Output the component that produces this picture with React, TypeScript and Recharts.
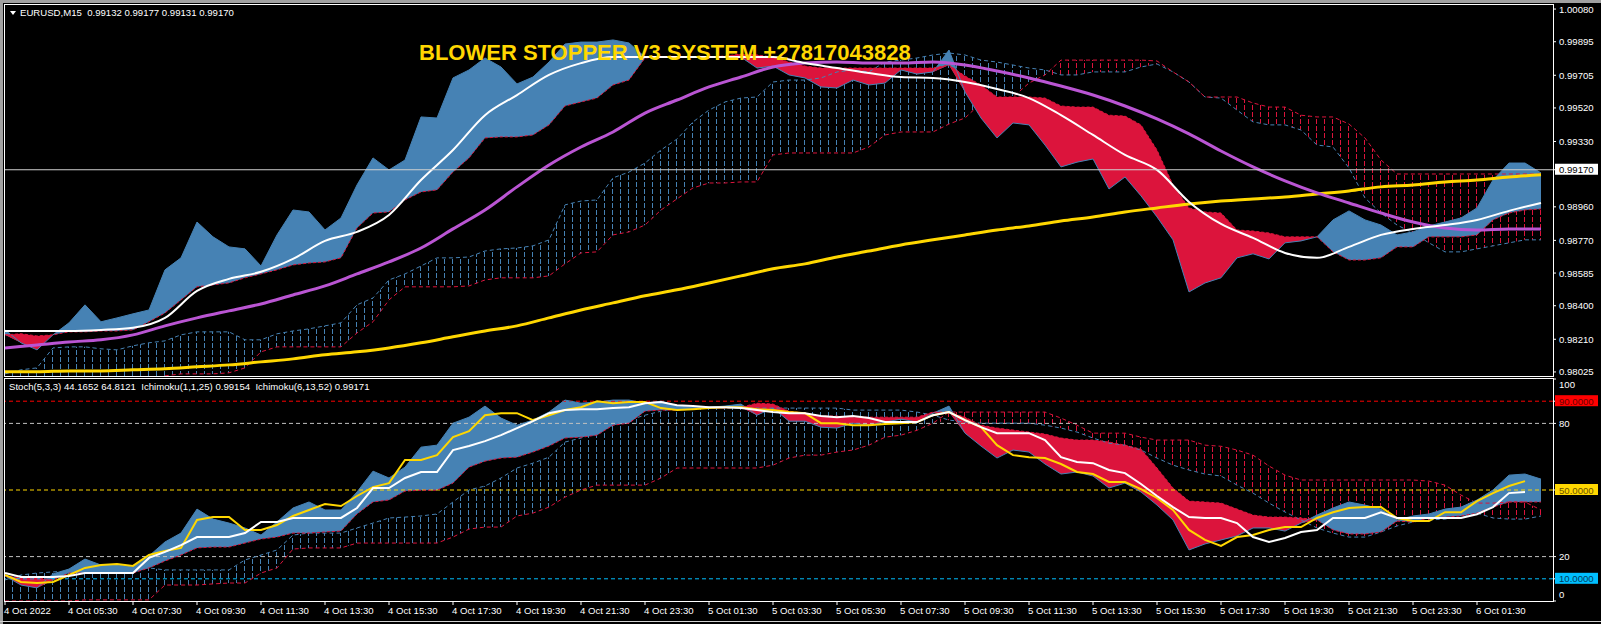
import { ComposedChart, Area, Line, XAxis, YAxis, ReferenceLine } from "recharts";

// M15 bars, bar 0 = 4 Oct 2022 03:30. Cloud series are read every 2 bars,
// the smooth moving averages every 4 bars.
const CLOUD_STEP = 2;
const MA_STEP = 4;

const TIME_TICKS = [0, 8, 16, 24, 32, 40, 48, 56, 64, 72, 80, 88, 96, 104, 112, 120, 128, 136, 144, 152, 160, 168, 176, 184];
const TIME_LABELS = [
  "4 Oct 2022", "4 Oct 05:30", "4 Oct 07:30", "4 Oct 09:30", "4 Oct 11:30", "4 Oct 13:30",
  "4 Oct 15:30", "4 Oct 17:30", "4 Oct 19:30", "4 Oct 21:30", "4 Oct 23:30", "5 Oct 01:30",
  "5 Oct 03:30", "5 Oct 05:30", "5 Oct 07:30", "5 Oct 09:30", "5 Oct 11:30", "5 Oct 13:30",
  "5 Oct 15:30", "5 Oct 17:30", "5 Oct 19:30", "5 Oct 21:30", "5 Oct 23:30", "6 Oct 01:30",
];

const PRICE_TICKS = [0.98025, 0.9821, 0.984, 0.98585, 0.9877, 0.9896, 0.9917, 0.9933, 0.9952, 0.99705, 0.99895, 1.0008];
const LAST_PRICE = 0.9917;
const STOCH_TICKS = [0, 10, 20, 50, 80, 90, 100];

// Ichimoku(1,1,25) on price: span A (price) and span B
const TOP_PRICE = [
  0.98263, 0.9819, 0.9815, 0.98235, 0.98303, 0.98405, 0.98309, 0.98331, 0.98354, 0.98376,
  0.98603, 0.98671, 0.98874, 0.9879, 0.98733, 0.98722, 0.98625, 0.98801, 0.98942, 0.98931,
  0.98829, 0.98897, 0.99084, 0.99237, 0.99169, 0.99225, 0.99469, 0.99463, 0.9969, 0.99735,
  0.99803, 0.99752, 0.99656, 0.99695, 0.9978, 0.99882, 0.99893, 0.99893, 0.99905, 0.99888,
  0.99808, 0.99808, 0.99808, 0.99808, 0.99808, 0.99808, 0.99808, 0.99746, 0.99757, 0.99707,
  0.9969, 0.99639, 0.99633, 0.99678, 0.9965, 0.99661, 0.99735, 0.99712, 0.99724, 0.99848,
  0.9961, 0.99463, 0.9935, 0.99435, 0.99424, 0.9931, 0.99186, 0.99213, 0.99231, 0.99061,
  0.99129, 0.99022, 0.98903, 0.98773, 0.98478, 0.98529, 0.98558, 0.98671, 0.98694, 0.98665,
  0.98756, 0.98767, 0.9879, 0.98886, 0.98937, 0.98886, 0.98857, 0.98801, 0.98818, 0.98852,
  0.98874, 0.98897, 0.98954, 0.99112, 0.99208, 0.99208, 0.99152,
];
const TOP_SPAN_B = [
  0.98235, 0.98241, 0.98229, 0.98235, 0.98252, 0.98252, 0.98257, 0.98257, 0.98263, 0.98309,
  0.98359, 0.98433, 0.98507, 0.98518, 0.98529, 0.98558, 0.9858, 0.98603, 0.98631, 0.98642,
  0.98648, 0.98671, 0.9884, 0.98925, 0.98931, 0.98999, 0.99044, 0.99056, 0.99157, 0.99237,
  0.9935, 0.99356, 0.99356, 0.99367, 0.99424, 0.99531, 0.99554, 0.99576, 0.9965, 0.99678,
  0.99803, 0.99808, 0.99808, 0.99808, 0.99808, 0.99814, 0.99825, 0.9982, 0.99808, 0.9978,
  0.99757, 0.99746, 0.99746, 0.99746, 0.99746, 0.99746, 0.99746, 0.99746, 0.99746, 0.99763,
  0.99701, 0.9965, 0.99582, 0.99582, 0.99582, 0.99576, 0.99531, 0.99525, 0.99525, 0.99479,
  0.99474, 0.99424, 0.99282, 0.99084, 0.98954, 0.98931, 0.98925, 0.98829, 0.98823, 0.98812,
  0.9879, 0.9879, 0.9879, 0.98705, 0.98659, 0.98659, 0.98671, 0.98733, 0.98733, 0.9879,
  0.9879, 0.9879, 0.98801, 0.98886, 0.98925, 0.98942, 0.98948,
];
// Ichimoku(6,13,52) on price: span A and span B
const TOP_SLOW_A = [
  0.98014, 0.98037, 0.98048, 0.98161, 0.98167, 0.98167, 0.98156, 0.9815, 0.98173, 0.9819,
  0.98201, 0.98235, 0.98252, 0.98252, 0.98252, 0.98207, 0.98207, 0.98241, 0.98257, 0.98269,
  0.98286, 0.98303, 0.98405, 0.98444, 0.98546, 0.9858, 0.98625, 0.98671, 0.98671, 0.98676,
  0.9871, 0.98722, 0.98727, 0.98739, 0.98773, 0.98971, 0.98993, 0.98999, 0.99124, 0.99157,
  0.99208, 0.99282, 0.99344, 0.99441, 0.99508, 0.99554, 0.99576, 0.99582, 0.99667, 0.99678,
  0.99678, 0.9969, 0.99724, 0.99735, 0.99724, 0.9978, 0.99791, 0.99803, 0.9982, 0.99831,
  0.9982, 0.99791, 0.9978, 0.99763, 0.99746, 0.99735, 0.99707, 0.99707, 0.99724, 0.99724,
  0.99724, 0.99752, 0.99769, 0.99724, 0.99667, 0.99582, 0.99576, 0.99508, 0.99441, 0.99424,
  0.99424, 0.99395, 0.9931, 0.99299, 0.9918, 0.9901, 0.98925, 0.98857, 0.98812, 0.98756,
  0.98705, 0.98705, 0.98722, 0.98739, 0.98756, 0.98773, 0.98773,
];
const TOP_SLOW_B = [
  0.97952, 0.97952, 0.97952, 0.97952, 0.97952, 0.97952, 0.97952, 0.97952, 0.97952, 0.9798,
  0.98003, 0.98014, 0.98014, 0.98014, 0.9802, 0.98048, 0.98139, 0.98167, 0.98167, 0.98167,
  0.98167, 0.98167, 0.98246, 0.98309, 0.98433, 0.98507, 0.98507, 0.98507, 0.98507, 0.98512,
  0.98546, 0.98558, 0.98558, 0.98558, 0.98569, 0.98637, 0.98699, 0.98705, 0.98801, 0.98818,
  0.98857, 0.98942, 0.99005, 0.99067, 0.99095, 0.99095, 0.99101, 0.99101, 0.99254, 0.99265,
  0.99265, 0.99265, 0.99265, 0.99265, 0.99299, 0.99367, 0.99384, 0.99384, 0.99384, 0.99429,
  0.99463, 0.99548, 0.99554, 0.99582, 0.99661, 0.99707, 0.99791, 0.99791, 0.99791, 0.99791,
  0.99791, 0.99791, 0.99786, 0.99724, 0.99667, 0.99582, 0.99582, 0.99582, 0.99548, 0.99525,
  0.99525, 0.99479, 0.99469, 0.99469, 0.99429, 0.9935, 0.99225, 0.99146, 0.99146, 0.99146,
  0.99146, 0.99146, 0.99146, 0.99146, 0.99146, 0.99146, 0.99146,
];
// moving averages on price
const TOP_WHITE = [
  0.98257, 0.98257, 0.98257, 0.98263, 0.98275, 0.98331, 0.98484, 0.98552, 0.98592, 0.98665,
  0.98767, 0.98818, 0.98914, 0.99112, 0.99282, 0.99479, 0.99593, 0.99707, 0.99774, 0.99808,
  0.99808, 0.99808, 0.99808, 0.99808, 0.99808, 0.99774, 0.99746, 0.99718, 0.99695, 0.9969,
  0.99667, 0.99627, 0.99576, 0.99479, 0.99367, 0.99254, 0.99169, 0.98988, 0.98863, 0.98784,
  0.98699, 0.98671, 0.98733, 0.98801, 0.98835, 0.98857, 0.98886, 0.98937, 0.98982,
];
const TOP_MAGENTA = [
  0.98161, 0.98178, 0.98195, 0.98207, 0.98235, 0.98286, 0.98331, 0.98371, 0.9841, 0.98461,
  0.98512, 0.9858, 0.98648, 0.98727, 0.98835, 0.98942, 0.99073, 0.99197, 0.99299, 0.99384,
  0.99491, 0.99565, 0.99639, 0.99695, 0.99752, 0.99774, 0.9978, 0.99774, 0.99774, 0.9978,
  0.99763, 0.99729, 0.9969, 0.99644, 0.99593, 0.99531, 0.99458, 0.99373, 0.99276, 0.99186,
  0.99107, 0.99039, 0.98982, 0.98925, 0.98874, 0.9884, 0.98829, 0.98835, 0.98835,
];
const TOP_YELLOW = [
  0.98026, 0.98026, 0.98031, 0.98031, 0.98037, 0.98043, 0.98054, 0.98065, 0.98082, 0.98099,
  0.98122, 0.98139, 0.98161, 0.9819, 0.98224, 0.98257, 0.98286, 0.98331, 0.98376, 0.98416,
  0.98456, 0.9849, 0.98529, 0.98569, 0.98609, 0.98637, 0.98676, 0.9871, 0.98744, 0.98773,
  0.98801, 0.98829, 0.98852, 0.9888, 0.98903, 0.98931, 0.98954, 0.98976, 0.98993, 0.99005,
  0.99016, 0.99033, 0.9905, 0.99073, 0.99084, 0.99101, 0.99112, 0.99129, 0.99141,
];

// lower window: stochastic with the two Ichimoku clouds applied to it
const BOT_FAST_A = [
  11.3, 7.2, 5.9, 12.2, 14.4, 18.9, 16.2, 16.2, 15.3, 20.3,
  26.6, 30.6, 41.4, 36.9, 35.1, 32.9, 29.7, 35.6, 41.9, 44.6,
  41.0, 41.0, 49.1, 58.5, 55.4, 60.3, 69.3, 70.2, 80.1, 82.8,
  87.8, 82.4, 79.2, 81.5, 85.1, 90.5, 89.1, 89.6, 90.5, 90.5,
  89.1, 90.0, 87.8, 87.3, 87.3, 87.8, 88.7, 83.7, 86.9, 81.0,
  81.0, 78.3, 77.9, 80.1, 79.2, 80.6, 81.9, 80.6, 84.6, 87.8,
  75.6, 69.8, 64.4, 68.0, 67.1, 61.7, 57.2, 58.1, 56.3, 50.9,
  53.1, 49.1, 43.2, 36.5, 23.0, 25.7, 27.5, 29.3, 32.9, 32.9,
  31.5, 35.1, 38.7, 41.9, 44.6, 43.2, 41.4, 36.5, 38.3, 39.2,
  41.4, 42.3, 45.5, 50.0, 56.7, 57.2, 54.9,
];
const BOT_FAST_B = [
  11.3, 10.4, 10.4, 9.5, 12.6, 12.6, 12.6, 12.6, 12.6, 14.9,
  18.0, 20.7, 23.9, 24.3, 24.3, 26.1, 27.9, 28.8, 30.6, 30.6,
  31.1, 31.5, 39.2, 44.6, 45.5, 49.5, 49.9, 49.9, 53.1, 60.3,
  63.0, 64.4, 64.8, 67.1, 69.8, 73.4, 73.8, 74.7, 79.2, 80.1,
  85.5, 86.0, 86.0, 86.4, 86.9, 86.9, 87.3, 89.1, 88.7, 85.5,
  84.6, 83.3, 83.3, 82.8, 82.8, 82.8, 82.8, 82.8, 85.1, 85.1,
  82.8, 79.2, 77.9, 77.0, 76.1, 75.2, 73.4, 72.5, 72.5, 71.6,
  70.2, 68.4, 59.9, 50.9, 45.0, 44.6, 44.1, 41.4, 38.7, 37.8,
  37.8, 37.4, 36.5, 32.0, 30.2, 30.2, 31.1, 36.0, 35.6, 37.4,
  37.8, 38.3, 39.6, 42.3, 44.6, 44.6, 44.6,
];
const BOT_SLOW_A = [
  9.5, 11.7, 12.6, 13.1, 13.5, 14.0, 14.0, 14.0, 14.4, 14.9,
  14.0, 14.0, 14.0, 14.0, 14.0, 18.5, 20.7, 23.0, 29.7, 30.6,
  30.6, 30.6, 32.9, 35.1, 37.4, 37.8, 38.3, 39.2, 44.6, 50.0,
  51.8, 55.4, 59.9, 62.1, 64.8, 71.6, 73.4, 75.6, 79.2, 81.5,
  83.7, 85.5, 86.9, 86.9, 86.9, 86.9, 86.9, 86.9, 86.9, 86.9,
  86.9, 86.9, 86.9, 86.0, 86.0, 86.0, 86.0, 85.1, 83.7, 81.5,
  80.6, 80.1, 80.1, 80.1, 80.1, 79.2, 77.9, 76.1, 73.4, 71.1,
  70.2, 68.0, 64.4, 61.2, 59.0, 57.2, 56.3, 52.2, 48.6, 44.1,
  40.1, 36.5, 32.9, 30.6, 28.8, 28.8, 31.1, 33.8, 35.6, 36.5,
  36.9, 37.8, 39.6, 37.4, 36.9, 36.9, 38.3,
];
const BOT_SLOW_B = [
  0, 0, 0, 0, 0, 0.5, 0.5, 0.5, 0.5, 0.5,
  7.2, 7.2, 7.2, 7.7, 8.1, 8.1, 12.6, 14.9, 23.4, 23.9,
  23.9, 23.9, 26.1, 26.1, 26.1, 26.1, 26.1, 26.1, 28.8, 32.4,
  33.3, 33.3, 38.3, 39.6, 42.3, 46.8, 50.0, 52.2, 52.2, 52.2,
  52.2, 55.4, 59.9, 59.9, 59.9, 59.9, 59.9, 59.9, 61.2, 64.4,
  65.7, 65.7, 67.1, 68.0, 70.2, 73.8, 74.7, 76.9, 80.1, 85.1,
  85.1, 85.1, 85.1, 85.1, 85.1, 85.1, 82.4, 79.2, 75.6, 75.6,
  75.6, 73.8, 72.5, 72.5, 72.5, 70.2, 69.7, 68.0, 65.7, 60.8,
  56.7, 54.5, 54.5, 54.5, 54.5, 54.5, 54.5, 54.5, 54.5, 54.0,
  52.2, 47.7, 44.1, 44.1, 44.6, 44.6, 41.0,
];
const BOT_WHITE = [
  12.6, 10.8, 10.8, 10.8, 11.3, 12.6, 12.6, 12.6, 12.6, 19.4,
  22.1, 25.2, 28.8, 28.8, 28.8, 30.6, 35.6, 35.6, 37.4, 37.4,
  37.4, 37.4, 41.9, 50.9, 50.9, 55.4, 58.1, 58.1, 68.0, 69.8,
  72.0, 74.7, 77.9, 81.0, 84.6, 86.0, 86.4, 86.4, 86.9, 87.3,
  89.1, 89.6, 88.2, 87.8, 87.3, 87.3, 86.9, 86.0, 85.1, 84.6,
  84.6, 83.3, 82.8, 83.3, 82.4, 80.6, 80.6, 80.6, 83.7, 85.1,
  81.5, 78.3, 75.6, 75.6, 75.6, 72.5, 64.8, 62.6, 62.1, 59.0,
  57.6, 52.7, 47.3, 42.3, 37.8, 37.4, 37.4, 35.1, 28.8, 26.6,
  28.4, 31.1, 32.0, 37.4, 37.4, 37.4, 40.0, 37.4, 37.4, 37.4,
  37.4, 37.4, 39.1, 42.3, 48.6, 49.1,
];
const BOT_YELLOW = [
  11.7, 8.6, 8.1, 8.6, 11.7, 14.9, 16.2, 16.7, 15.8, 20.7,
  22.5, 23.9, 36.5, 37.8, 37.8, 32.0, 32.0, 34.2, 38.3, 41.0,
  43.7, 42.8, 47.3, 51.3, 53.1, 63.5, 63.5, 65.7, 73.8, 76.5,
  83.7, 84.6, 84.6, 81.5, 83.7, 86.0, 87.3, 90.0, 89.1, 89.6,
  89.6, 86.9, 86.0, 86.4, 86.9, 87.3, 87.3, 86.4, 86.0, 85.1,
  84.6, 80.1, 80.1, 79.2, 79.2, 79.7, 80.1, 80.6, 83.7, 85.1,
  81.5, 78.3, 70.2, 65.7, 64.8, 64.4, 61.7, 58.1, 57.2, 53.6,
  53.6, 50.4, 46.4, 41.0, 32.0, 27.5, 24.8, 28.8, 29.7, 32.0,
  33.3, 33.3, 37.4, 40.0, 41.9, 42.3, 42.3, 37.4, 36.0, 36.0,
  40.0, 40.0, 45.0, 48.6, 51.8, 54.0,
];

const FONT = '"Liberation Sans", Arial, sans-serif';
const BLUE = "#4682B4";
const RED = "#DC143C";
const GOLD = "#FFD700";
const ORCHID = "#BA55D3";

// split two spans into an "up" (A above B) band and a "down" band
function split(a: number, b: number) {
  return a >= b ? { up: [b, a], down: [b, b] } : { up: [a, a], down: [a, b] };
}

function maAt(arr: number[], i: number) {
  const k = (i * CLOUD_STEP) / MA_STEP;
  return Number.isInteger(k) && k < arr.length ? arr[k] : null;
}

const topRows = TOP_PRICE.map((p, i) => {
  const fast = split(p, TOP_SPAN_B[i]);
  const slow = split(TOP_SLOW_A[i], TOP_SLOW_B[i]);
  return {
    bar: i * CLOUD_STEP,
    price: p,
    spanB: TOP_SPAN_B[i],
    slowA: TOP_SLOW_A[i],
    slowB: TOP_SLOW_B[i],
    fastUp: fast.up,
    fastDown: fast.down,
    slowUp: slow.up,
    slowDown: slow.down,
    white: maAt(TOP_WHITE, i),
    magenta: maAt(TOP_MAGENTA, i),
    yellow: maAt(TOP_YELLOW, i),
  };
});

const botRows = BOT_FAST_A.map((p, i) => {
  const fast = split(p, BOT_FAST_B[i]);
  const slow = split(BOT_SLOW_A[i], BOT_SLOW_B[i]);
  return {
    bar: i * CLOUD_STEP,
    fastA: p,
    fastB: BOT_FAST_B[i],
    slowA: BOT_SLOW_A[i],
    slowB: BOT_SLOW_B[i],
    fastUp: fast.up,
    fastDown: fast.down,
    slowUp: slow.up,
    slowDown: slow.down,
    white: i < BOT_WHITE.length ? BOT_WHITE[i] : null,
    yellow: i < BOT_YELLOW.length ? BOT_YELLOW[i] : null,
  };
});

const txt = { fontFamily: FONT, fontSize: 9.6 };

function PriceTick(props: any) {
  const { x, y, payload } = props;
  const v = payload.value as number;
  const label = v.toFixed(5);
  if (v === LAST_PRICE) {
    return (
      <g>
        <rect x={x - 4} y={y - 6} width={43} height={11} fill="#ffffff" />
        <text x={x} y={y} dy={3.5} {...txt} fill="#000000">{label}</text>
      </g>
    );
  }
  return <text x={x} y={y} dy={3.5} {...txt} fill="#ffffff">{label}</text>;
}

const LEVEL_BOX: Record<number, [string, string]> = {
  90: ["#FF0000", "#6a0000"],
  50: [GOLD, "#6b5200"],
  10: ["#00BFFF", "#003b5c"],
};

function StochTick(props: any) {
  const { x, y, payload } = props;
  const v = payload.value as number;
  const box = LEVEL_BOX[v];
  if (box) {
    return (
      <g>
        <rect x={x - 4} y={y - 6} width={43} height={11} fill={box[0]} />
        <text x={x} y={y} dy={3.5} {...txt} fill={box[1]}>{v.toFixed(4)}</text>
      </g>
    );
  }
  const shift = v === 100 ? 5 : v === 0 ? -7 : 0;
  return <text x={x} y={y + shift} dy={3.5} {...txt} fill="#ffffff">{v}</text>;
}

function TimeTick(props: any) {
  const { x, y, payload } = props;
  const label = TIME_LABELS[TIME_TICKS.indexOf(payload.value)];
  return <text x={x - 1} y={y} dy={8} {...txt} fill="#ffffff">{label}</text>;
}

function Hatch({ id, color }: { id: string; color: string }) {
  return (
    <pattern id={id} patternUnits="userSpaceOnUse" width={8} height={7}>
      <line x1={4.5} y1={0} x2={4.5} y2={5} stroke={color} strokeWidth={1} />
    </pattern>
  );
}

const band = { type: "linear" as const, stroke: "none", fillOpacity: 1, isAnimationActive: false, dot: false, activeDot: false };
const line = { type: "linear" as const, dot: false, activeDot: false, isAnimationActive: false, connectNulls: true };
const X_DOMAIN: [number, number] = [0, 193.5];

export default function App() {
  return (
    <div style={{ position: "absolute", left: 0, top: 0, width: 1601, height: 624, background: "#000", overflow: "hidden" }}>
      <div style={{ position: "absolute", left: 0, top: 0 }}>
        <ComposedChart width={1601} height={377} data={topRows} margin={{ top: 5, right: 0, bottom: 1, left: 5 }}>
          <defs>
            <Hatch id="topHatchUp" color={BLUE} />
            <Hatch id="topHatchDown" color={RED} />
          </defs>
          <XAxis hide type="number" dataKey="bar" domain={X_DOMAIN} allowDataOverflow />
          <YAxis
            orientation="right"
            width={48}
            domain={[0.98002, 1.00103]}
            allowDataOverflow
            ticks={PRICE_TICKS}
            interval={0}
            tick={(p: any) => <PriceTick {...p} />}
            tickSize={3}
            tickMargin={3}
            tickLine={{ stroke: "#ffffff" }}
            axisLine={false}
          />
          <Area dataKey="slowUp" fill="url(#topHatchUp)" {...band} />
          <Area dataKey="slowDown" fill="url(#topHatchDown)" {...band} />
          <Line dataKey="slowA" stroke={BLUE} strokeWidth={1} strokeDasharray="4 3" {...line} />
          <Line dataKey="slowB" stroke={RED} strokeWidth={1} strokeDasharray="4 3" {...line} />
          <Area dataKey="fastUp" fill={BLUE} {...band} />
          <Area dataKey="fastDown" fill={RED} {...band} />
          <Line dataKey="price" stroke={BLUE} strokeWidth={1} {...line} />
          <Line dataKey="spanB" stroke={RED} strokeWidth={1} strokeDasharray="3 2" {...line} />
          <Line dataKey="yellow" stroke={GOLD} strokeWidth={3} {...line} type="monotone" />
          <Line dataKey="magenta" stroke={ORCHID} strokeWidth={3} {...line} type="monotone" />
          <Line dataKey="white" stroke="#ffffff" strokeWidth={2} {...line} type="monotone" />
          <ReferenceLine y={LAST_PRICE} stroke="#d0d0d0" strokeWidth={1} />
        </ComposedChart>
      </div>

      <div style={{ position: "absolute", left: 0, top: 370 }}>
        <ComposedChart width={1601} height={254} data={botRows} margin={{ top: 9, right: 0, bottom: 0, left: 5 }}>
          <defs>
            <Hatch id="botHatchUp" color={BLUE} />
            <Hatch id="botHatchDown" color={RED} />
          </defs>
          <XAxis
            type="number"
            dataKey="bar"
            domain={X_DOMAIN}
            allowDataOverflow
            ticks={TIME_TICKS}
            interval={0}
            height={23}
            tick={(p: any) => <TimeTick {...p} />}
            tickSize={4}
            tickMargin={1}
            tickLine={{ stroke: "#ffffff" }}
            axisLine={false}
          />
          <YAxis
            orientation="right"
            width={48}
            domain={[0, 100]}
            allowDataOverflow
            ticks={STOCH_TICKS}
            interval={0}
            tick={(p: any) => <StochTick {...p} />}
            tickSize={3}
            tickMargin={3}
            tickLine={{ stroke: "#ffffff" }}
            axisLine={false}
          />
          <ReferenceLine y={90} stroke="#FF0000" strokeDasharray="4 3" />
          <ReferenceLine y={80} stroke="#c0c0c0" strokeDasharray="4 3" />
          <ReferenceLine y={50} stroke={GOLD} strokeDasharray="4 3" />
          <ReferenceLine y={20} stroke="#c0c0c0" strokeDasharray="4 3" />
          <ReferenceLine y={10} stroke="#00BFFF" strokeDasharray="4 3" />
          <Area dataKey="slowUp" fill="url(#botHatchUp)" {...band} />
          <Area dataKey="slowDown" fill="url(#botHatchDown)" {...band} />
          <Line dataKey="slowA" stroke={BLUE} strokeWidth={1} strokeDasharray="4 3" {...line} />
          <Line dataKey="slowB" stroke={RED} strokeWidth={1} strokeDasharray="4 3" {...line} />
          <Area dataKey="fastUp" fill={BLUE} {...band} />
          <Area dataKey="fastDown" fill={RED} {...band} />
          <Line dataKey="fastA" stroke={BLUE} strokeWidth={1} {...line} />
          <Line dataKey="fastB" stroke={RED} strokeWidth={1} strokeDasharray="3 2" {...line} />
          <Line dataKey="yellow" stroke={GOLD} strokeWidth={2} {...line} />
          <Line dataKey="white" stroke="#ffffff" strokeWidth={2} {...line} />
        </ComposedChart>
      </div>

      {/* window frames */}
      <div style={{ position: "absolute", left: 0, top: 0, width: 1601, height: 3, background: "#a0a0a0" }} />
      <div style={{ position: "absolute", left: 0, top: 0, width: 3, height: 624, background: "#a0a0a0" }} />
      <div style={{ position: "absolute", left: 0, top: 621, width: 1601, height: 1, background: "#d0d0d0" }} />
      <div style={{ position: "absolute", left: 4, top: 4, width: 1550, height: 373, boxSizing: "border-box", border: "1px solid #ffffff" }} />
      <div style={{ position: "absolute", left: 4, top: 378, width: 1550, height: 224, boxSizing: "border-box", border: "1px solid #ffffff" }} />

      {/* headers */}
      <div style={{ position: "absolute", left: 10, top: 11, width: 0, height: 0, borderLeft: "3px solid transparent", borderRight: "3px solid transparent", borderTop: "4px solid #fff" }} />
      <div style={{ position: "absolute", left: 20, top: 7, fontFamily: FONT, fontSize: 9.6, lineHeight: "11px", color: "#fff", whiteSpace: "pre" }}>
        {"EURUSD,M15  0.99132 0.99177 0.99131 0.99170"}
      </div>
      <div style={{ position: "absolute", left: 9, top: 381, fontFamily: FONT, fontSize: 9.6, lineHeight: "11px", color: "#fff", whiteSpace: "pre" }}>
        {"Stoch(5,3,3) 44.1652 64.8121  Ichimoku(1,1,25) 0.99154  Ichimoku(6,13,52) 0.99171"}
      </div>
      <div style={{ position: "absolute", left: 419, top: 42, fontFamily: FONT, fontSize: 22, fontWeight: "bold", lineHeight: "22px", color: GOLD, whiteSpace: "nowrap" }}>
        BLOWER STOPPER V3 SYSTEM +27817043828
      </div>
    </div>
  );
}
